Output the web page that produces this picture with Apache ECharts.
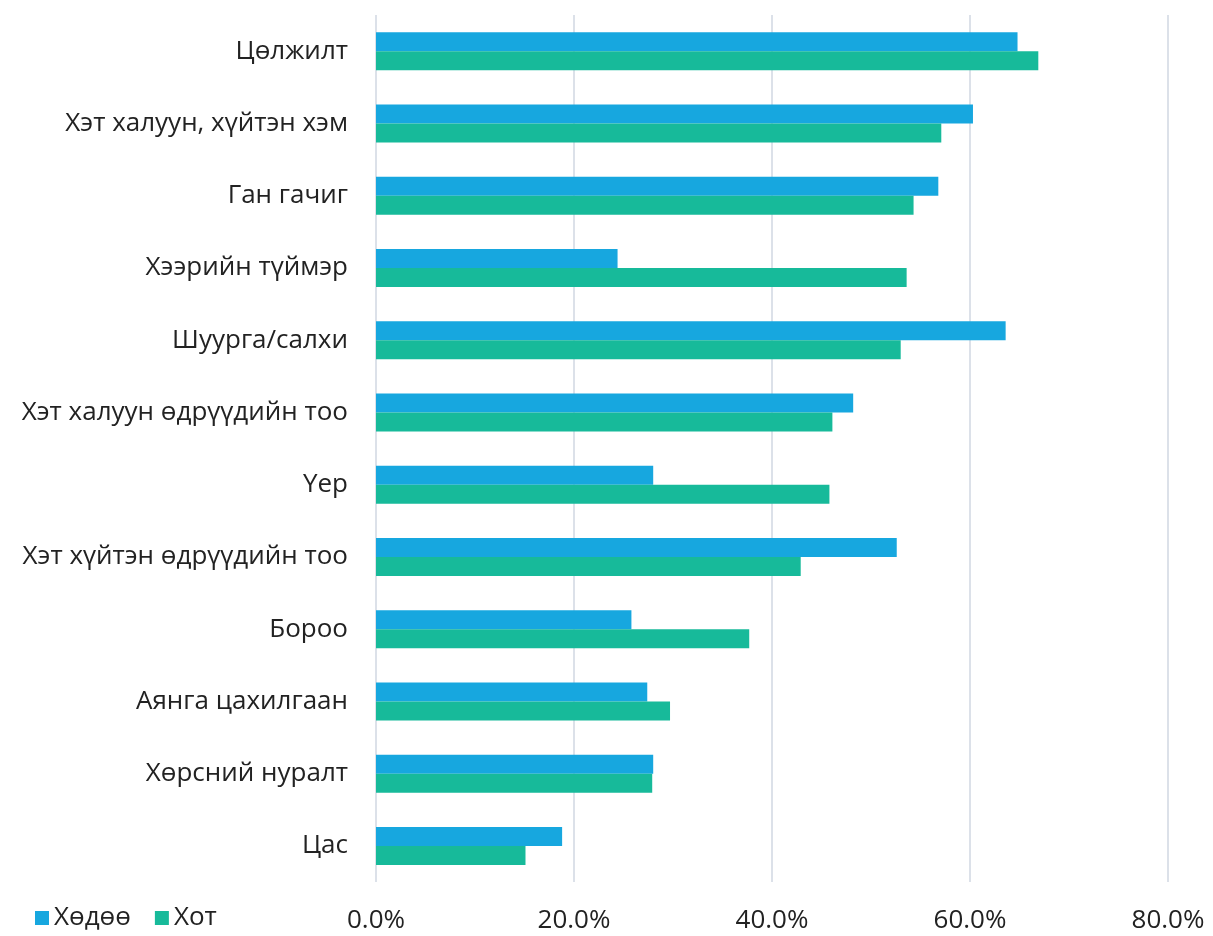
<!DOCTYPE html>
<html>
<head>
<meta charset="utf-8">
<script src="https://cdn.jsdelivr.net/npm/echarts@6/dist/echarts.min.js"></script>
<style>
    html, body { margin: 0; padding: 0; background: #fff; }
    #main { width: 1213px; height: 936px; }
</style>
</head>
<body>
<div id="main"></div>
<script>
var categories = ['Цөлжилт', 'Хэт халуун, хүйтэн хэм', 'Ган гачиг', 'Хээрийн түймэр', 'Шуурга/салхи',
    'Хэт халуун өдрүүдийн тоо', 'Үер', 'Хэт хүйтэн өдрүүдийн тоо', 'Бороо', 'Аянга цахилгаан',
    'Хөрсний нуралт', 'Цас'];
var rural = [64.8, 60.3, 56.8, 24.4, 63.6, 48.2, 28.0, 52.6, 25.8, 27.4, 28.0, 18.8];   // Хөдөө
var urban = [66.9, 57.1, 54.3, 53.6, 53.0, 46.1, 45.8, 42.9, 37.7, 29.7, 27.9, 15.1];   // Хот
var xTicks = [0, 20, 40, 60, 80];

var myChart = echarts.init(document.getElementById('main'));
var font = '"Open Sans", "Noto Sans", sans-serif';
var option = {
    textStyle: { fontFamily: font },
    color: ['#17A7DF', '#17BA9A'],
    legend: {
        left: 30,
        bottom: 0,
        itemWidth: 14,
        itemHeight: 14,
        itemGap: 24,
        icon: 'rect',
        textStyle: { fontSize: 26, color: '#222', fontFamily: font },
        data: ['Хөдөө', 'Хот']
    },
    grid: {
        left: 376,
        right: 45,
        top: 15,
        bottom: 54,
        containLabel: false
    },
    xAxis: {
        type: 'value',
        min: xTicks[0],
        max: xTicks[xTicks.length - 1],
        interval: 20,
        axisLine: { show: false },
        axisTick: { show: false },
        splitLine: { lineStyle: { color: '#DCE1E9', width: 2 } },
        axisLabel: {
            margin: 26,
            fontSize: 26,
            color: '#222',
            formatter: function (v) { return v.toFixed(1) + '%'; }
        }
    },
    yAxis: {
        type: 'category',
        inverse: true,
        data: categories,
        axisLine: { show: false },
        axisTick: { show: false },
        axisLabel: { margin: 28, fontSize: 26, color: '#222' }
    },
    series: [{
        name: 'Хөдөө',
        type: 'bar',
        data: rural,
        barWidth: 19,
        barGap: '0%'
    }, {
        name: 'Хот',
        type: 'bar',
        data: urban,
        barWidth: 19,
        barGap: '0%'
    }]
};
myChart.setOption(option);
</script>
</body>
</html>
